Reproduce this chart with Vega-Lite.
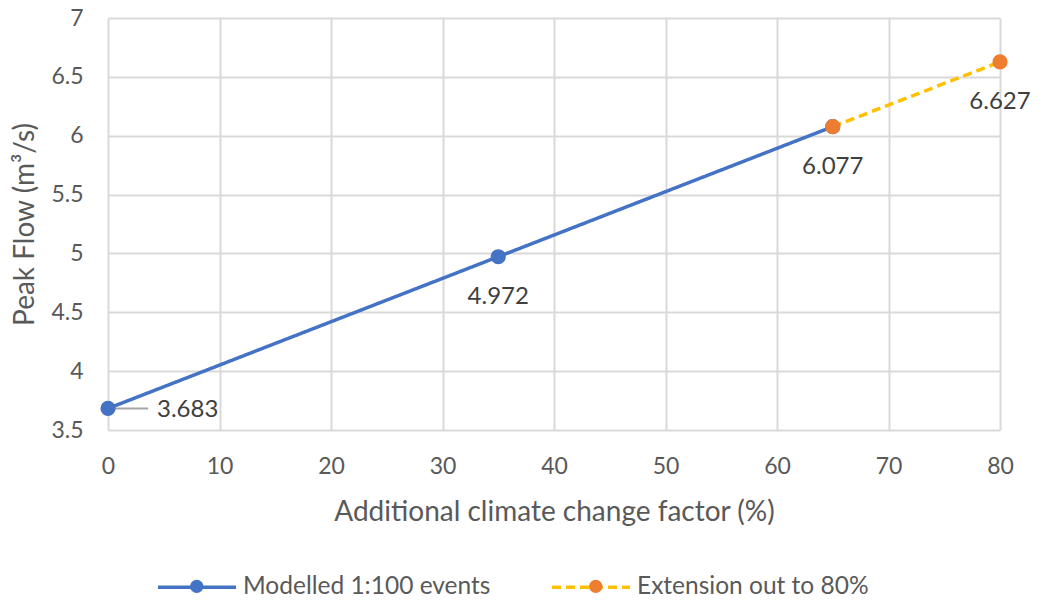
{
  "$schema": "https://vega.github.io/schema/vega-lite/v6.json",
  "width": 892,
  "height": 412,
  "autosize": {"type": "none"},
  "padding": {"left": 108, "top": 18, "right": 40, "bottom": 172},
  "background": "white",
  "config": {
    "font": "Lato",
    "view": {"stroke": null},
    "axis": {
      "labelColor": "#595959",
      "labelFontSize": 23,
      "labelFlush": false,
      "titleColor": "#595959",
      "titleFontSize": 28,
      "titleFontWeight": "normal",
      "domain": false,
      "ticks": false,
      "grid": true,
      "gridColor": "#d9d9d9",
      "gridWidth": 2
    },
    "legend": {"labelColor": "#595959", "labelFontSize": 24.5, "labelLimit": 500, "padding": 0}
  },
  "data": {
    "values": [
      {"series": "Modelled 1:100 events", "factor": 0, "flow": 3.683, "label": "3.683"},
      {"series": "Modelled 1:100 events", "factor": 35, "flow": 4.972, "label": "4.972"},
      {"series": "Modelled 1:100 events", "factor": 65, "flow": 6.077, "label": ""},
      {"series": "Extension out to 80%", "factor": 65, "flow": 6.077, "label": "6.077"},
      {"series": "Extension out to 80%", "factor": 80, "flow": 6.627, "label": "6.627"}
    ]
  },
  "encoding": {
    "x": {
      "field": "factor",
      "type": "quantitative",
      "scale": {"domain": [0, 80], "nice": false},
      "axis": {
        "values": [0, 10, 20, 30, 40, 50, 60, 70, 80],
        "title": "Additional climate change factor (%)",
        "labelPadding": 25,
        "titleY": 82,
        "titleBaseline": "middle"
      }
    },
    "y": {
      "field": "flow",
      "type": "quantitative",
      "scale": {"domain": [3.5, 7], "nice": false, "zero": false},
      "axis": {
        "values": [3.5, 4, 4.5, 5, 5.5, 6, 6.5, 7],
        "format": "~g",
        "title": "Peak Flow (m³/s)",
        "labelPadding": 25,
        "titleX": -83,
        "titleY": 206,
        "titleBaseline": "middle"
      }
    }
  },
  "layer": [
    {
      "mark": {"type": "line", "strokeWidth": 3.5},
      "encoding": {
        "stroke": {
          "field": "series",
          "type": "nominal",
          "sort": "descending",
          "scale": {"range": ["#4472C4", "#FFC000"]},
          "legend": {
            "orient": "none",
            "legendX": 48,
            "legendY": 528,
            "direction": "horizontal",
            "title": null,
            "symbolType": "stroke",
            "symbolSize": 6084,
            "symbolStrokeWidth": 3.5,
            "labelOffset": 5,
            "columnPadding": 54,
            "zindex": 0
          }
        },
        "strokeDash": {
          "field": "series",
          "type": "nominal",
          "sort": "descending",
          "scale": {"range": [[1, 0], [9, 5]]}
        }
      }
    },
    {
      "transform": [{"filter": "datum.factor == 0"}],
      "mark": {"type": "rule", "color": "#a6a6a6", "strokeWidth": 2},
      "encoding": {"x2": {"datum": 3.6}}
    },
    {
      "mark": {"type": "point", "filled": true, "size": 230, "opacity": 1, "strokeWidth": 0},
      "encoding": {
        "fill": {
          "field": "series",
          "type": "nominal",
          "scale": {
            "domain": ["Modelled 1:100 events", "Extension out to 80%"],
            "range": ["#4472C4", "#ED7D31"]
          },
          "legend": {
            "orient": "none",
            "legendX": 48,
            "legendY": 556,
            "direction": "horizontal",
            "title": null,
            "symbolType": "circle",
            "symbolSize": 180,
            "symbolStrokeWidth": 0,
            "symbolOffset": 28.5,
            "labelOffset": 62.5,
            "labelExpr": "''",
            "columnPadding": 283,
            "zindex": 1
          }
        }
      }
    },
    {
      "transform": [{"filter": "datum.factor == 0"}],
      "mark": {"type": "text", "align": "left", "baseline": "middle", "dx": 49, "dy": 2, "fontSize": 24, "color": "#404040"},
      "encoding": {"text": {"field": "label"}}
    },
    {
      "transform": [{"filter": "datum.factor > 0 && datum.label != ''"}],
      "mark": {"type": "text", "align": "center", "baseline": "middle", "dy": 40, "fontSize": 24, "color": "#404040"},
      "encoding": {"text": {"field": "label"}}
    }
  ]
}
